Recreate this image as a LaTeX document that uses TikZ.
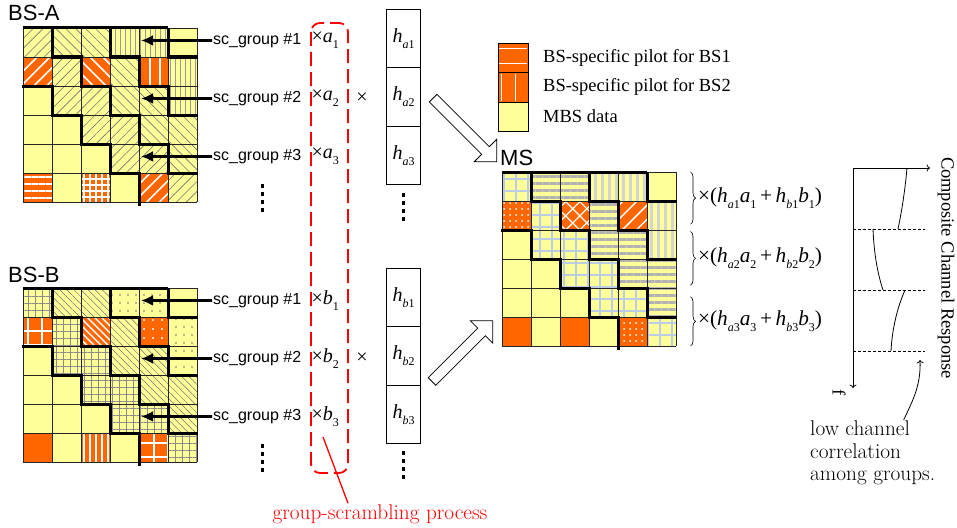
\documentclass[tikz,border=0pt]{standalone}
\usepackage{fontspec}
\newfontfamily\tms{Liberation Serif}
\newfontfamily\arl{Liberation Sans}
\usetikzlibrary{positioning,arrows.meta,patterns.meta,shapes.arrows,decorations.pathreplacing}
\definecolor{mbsyellow}{RGB}{255,255,153}
\definecolor{pilotorange}{RGB}{255,102,0}
\definecolor{gridblue}{RGB}{188,204,228}
\newcommand\sub[1]{\raisebox{-0.3em}{\fontsize{12}{12}\selectfont #1}}
\newcommand\hh[2]{\textit{h}\sub{\textit{#1}#2}}
\newcommand\vv[2]{\textit{#1}\sub{#2}}
\newcommand\pcell[3]{\path[pilot,#3] (#1-1,#2-1) rectangle (#1,#2);}
\newcommand\rgrid{%
  \fill[mbsyellow] (0,0) rectangle (6,6);
  \foreach \rw in {1,...,6}
    \foreach \cl in {1,...,6} {
      \pgfmathtruncatemacro\bn{and(\cl-\rw>=-1,\cl-\rw<=4) ? floor((\cl-\rw+1)/2) : 9}
      \path[band\bn] (\cl-1,\rw-1) rectangle (\cl,\rw);
    }}
\newcommand\rlines{%
  \foreach \i in {0,...,6} {
    \draw[cellline] (\i,0) -- (\i,6);
    \draw[cellline] (0,\i) -- (6,\i);
  }
  \draw[stair] (0,0) -- (5,0);
  \draw[stair] (-0.05,2) -- (1,2) -- (1,3) -- (2,3) -- (2,4) -- (3,4) -- (3,5) -- (4,5) -- (4,6.15);
  \draw[stair] (1,0) -- (1,1) -- (2,1) -- (2,2) -- (3,2) -- (3,3) -- (4,3) -- (4,4) -- (5,4) -- (5,5) -- (6.05,5);
  \draw[stair] (3,0) -- (3,1) -- (4,1) -- (4,2) -- (5,2) -- (5,3) -- (6.05,3);
  \draw[stair] (5,0) -- (5,1) -- (6.05,1);}
\begin{document}
\begin{tikzpicture}[x=1pt,y=-1pt,
  cellline/.style={line width=.6pt,black!85},
  stair/.style={line width=3pt},
  band9/.style={},
  pilot/.style={fill=pilotorange},
  wpat/.style={postaction={pattern={#1},pattern color=white}},
  title/.style={font=\arl\fontsize{22}{24}\selectfont,inner sep=0pt,anchor=base west},
  grp/.style={font=\arl\fontsize{16}{18}\selectfont,inner sep=1pt},
  grparrow/.style={line width=2.6pt,-{Latex[length=12pt,width=11pt]}},
  mul/.style={font=\tms\fontsize{20}{22}\selectfont,inner sep=1pt},
  formula/.style={font=\tms\fontsize{21.3}{23}\selectfont,inner sep=1pt,anchor=west},
  hbox/.style={draw,line width=.8pt,minimum width=34pt,minimum height=58.5pt,inner sep=0pt,outer sep=0pt,font=\tms\fontsize{20}{22}\selectfont},
  vdots/.style={line width=3pt,dash pattern=on 4pt off 4pt},
  scramble/.style={red,line width=1.8pt,dash pattern=on 14pt off 6pt,rounded corners=9pt},
  bigarrow/.style={single arrow,draw,fill=white,line width=.8pt,inner sep=5pt,single arrow head extend=10.5pt,minimum width=31pt},
  legbox/.style={draw,line width=.8pt,minimum width=30pt,minimum height=29.3pt,inner sep=0pt,outer sep=0pt},
  legline/.style={white,line width=1pt},
  legtxt/.style={font=\tms\fontsize{18.5}{20}\selectfont,inner sep=0pt},
  brace/.style={decorate,decoration={brace,amplitude=5pt},line width=.6pt},
  chart/.style={line width=.8pt},
  note/.style={font=\fontsize{21.3}{22.5}\selectfont,inner sep=1pt}]
\useasboundingbox (0,0) rectangle (957,527);

\begin{scope}[shift={(23,28)},x=29pt,y=-29pt,
  band0/.style={pattern={Lines[angle=45,distance=7pt,line width=.6pt]},pattern color=black!55},
  band1/.style={pattern={Lines[angle=-45,distance=7pt,line width=.6pt]},pattern color=black!55},
  band2/.style={pattern={Lines[angle=90,distance=5pt,line width=.5pt]},pattern color=black!40}]
\rgrid
\pcell{1}{2}{wpat={Lines[angle=45,distance=9pt,line width=1.6pt]}}
\pcell{3}{2}{wpat={Lines[angle=-45,distance=9pt,line width=1.6pt]}}
\pcell{5}{2}{wpat={Lines[angle=90,distance=10pt,line width=1.4pt]}}
\pcell{1}{6}{wpat={Lines[angle=0,distance=7pt,line width=1.4pt]}}
\pcell{3}{6}{wpat={Hatch[angle=0,distance=6pt,line width=1.2pt]}}
\pcell{5}{6}{wpat={Lines[angle=45,distance=9pt,line width=1.6pt]}}
\rlines
\coordinate (A1) at (4.07,0.43);
\coordinate (A2) at (4.07,2.43);
\coordinate (A3) at (4.07,4.43);
\end{scope}

\begin{scope}[shift={(23,288)},x=29pt,y=-29pt,
  band0/.style={pattern={Hatch[angle=0,distance=7pt,line width=.5pt]},pattern color=black!45},
  band1/.style={pattern={Lines[angle=-45,distance=5pt,line width=.5pt]},pattern color=black!55},
  band2/.style={pattern={Dots[distance=8pt,radius=.8pt]},pattern color=black!55}]
\rgrid
\pcell{1}{2}{wpat={Hatch[angle=0,distance=14pt,line width=1.2pt]}}
\pcell{3}{2}{wpat={Lines[angle=-45,distance=5pt,line width=1.4pt]}}
\pcell{5}{2}{wpat={Dots[distance=9pt,radius=1.1pt]}}
\pcell{1}{6}{}
\pcell{3}{6}{wpat={Lines[angle=90,distance=6pt,line width=1.6pt]}}
\pcell{5}{6}{wpat={Hatch[angle=0,distance=14pt,line width=1.2pt]}}
\rlines
\coordinate (B1) at (4.07,0.43);
\coordinate (B2) at (4.07,2.43);
\coordinate (B3) at (4.07,4.43);
\end{scope}

\begin{scope}[shift={(502,172)},x=29pt,y=-29pt,
  band0/.style={pattern={Hatch[angle=0,distance=12pt,line width=1.6pt]},pattern color=gridblue},
  band1/.style={pattern={Lines[angle=0,distance=7pt,line width=3pt]},pattern color=black!30},
  band2/.style={pattern={Lines[angle=90,distance=7pt,line width=3pt]},pattern color=black!17}]
\rgrid
\pcell{1}{2}{wpat={Dots[distance=6pt,radius=1pt]}}
\pcell{3}{2}{wpat={Hatch[angle=45,distance=10pt,line width=1.2pt]}}
\pcell{5}{2}{wpat={Lines[angle=45,distance=10pt,line width=1.5pt]}}
\pcell{1}{6}{}
\pcell{3}{6}{}
\pcell{5}{6}{wpat={Dots[distance=6pt,radius=1pt]}}
\rlines
\draw[brace] (6.5,0) -- (6.5,1.8);
\draw[brace] (6.5,2.05) -- (6.5,3.9);
\draw[brace] (6.5,4.3) -- (6.5,6);
\node[formula] (fm1) at (6.72,0.9) {×(\hh{a}{1}\vv{a}{1}\,+\,\hh{b}{1}\vv{b}{1})};
\node[formula] (fm2) at (6.72,2.98) {×(\hh{a}{2}\vv{a}{2}\,+\,\hh{b}{2}\vv{b}{2})};
\node[formula] (fm3) at (6.72,5.15) {×(\hh{a}{3}\vv{a}{3}\,+\,\hh{b}{3}\vv{b}{3})};
\end{scope}

\node[title] (bsA) at (8,21) {BS-A};
\node[title] (bsB) at (8,282) {BS-B};
\node[title] (ms) at (500,165) {MS};

\node[grp,anchor=west] (gA1) at (212,40.5) {sc\_group \#1};
\node[grp,anchor=west] (gA2) at (212,98.5) {sc\_group \#2};
\node[grp,anchor=west] (gA3) at (212,156.5) {sc\_group \#3};
\node[grp,anchor=west] (gB1) at (212,300.5) {sc\_group \#1};
\node[grp,anchor=west] (gB2) at (212,358.5) {sc\_group \#2};
\node[grp,anchor=west] (gB3) at (212,416.5) {sc\_group \#3};
\draw[grparrow] (gA1) -- (A1);
\draw[grparrow] (gA2) -- (A2);
\draw[grparrow] (gA3) -- (A3);
\draw[grparrow] (gB1) -- (B1);
\draw[grparrow] (gB2) -- (B2);
\draw[grparrow] (gB3) -- (B3);

\node[mul,right=8pt of gA1] (mA1) {×\vv{a}{1}};
\node[mul,right=8pt of gA2] (mA2) {×\vv{a}{2}};
\node[mul,right=8pt of gA3] (mA3) {×\vv{a}{3}};
\node[mul,right=8pt of gB1] (mB1) {×\vv{b}{1}};
\node[mul,right=8pt of gB2] (mB2) {×\vv{b}{2}};
\node[mul,right=8pt of gB3] (mB3) {×\vv{b}{3}};
\node[mul] (xA) at (362,98.5) {×};
\node[mul] (xB) at (362,358.5) {×};

\node[hbox] (hA1) at (403.5,38.3) {\hh{a}{1}};
\node[hbox,below=0pt of hA1] (hA2) {\hh{a}{2}};
\node[hbox,below=0pt of hA2] (hA3) {\hh{a}{3}};
\node[hbox] (hB1) at (403.5,297.5) {\hh{b}{1}};
\node[hbox,below=0pt of hB1] (hB2) {\hh{b}{2}};
\node[hbox,below=0pt of hB2] (hB3) {\hh{b}{3}};

\draw[vdots] (262,184) -- (262,214);
\draw[vdots] (262,444) -- (262,474);
\draw[vdots] (403.5,193) -- (403.5,223);
\draw[vdots] (403.5,451) -- (403.5,481);

\draw[scramble] (311,23) rectangle (348,473);
\coordinate (scrtip) at (323,437);
\node[note,text=red] (scrlbl) at (380,514) {group-scrambling process};
\draw[red,line width=1.3pt] (scrtip) -- ([xshift=-32pt]scrlbl.north);

\node[bigarrow,minimum height=90pt,rotate=-45] (toMSa) at (463,128) {};
\node[bigarrow,minimum height=86pt,rotate=45] (toMSb) at (460.5,353) {};

\node[legbox,fill=pilotorange] (lg1) at (513,58) {};
\node[legbox,fill=pilotorange,below=0pt of lg1] (lg2) {};
\node[legbox,fill=mbsyellow,below=0pt of lg2] (lg3) {};
\draw[legline] ([shift={(1,5)}]lg1.north west) -- ([shift={(-1,5)}]lg1.north east);
\draw[legline] ([shift={(1,20)}]lg1.north west) -- ([shift={(-1,20)}]lg1.north east);
\draw[legline] ([shift={(3.5,1)}]lg2.north west) -- ([shift={(3.5,-1)}]lg2.south west);
\draw[legline] ([shift={(17,1)}]lg2.north west) -- ([shift={(17,-1)}]lg2.south west);
\node[legtxt,right=15pt of lg1] (lt1) {BS-specific pilot for BS1};
\node[legtxt,right=15pt of lg2] (lt2) {BS-specific pilot for BS2};
\node[legtxt,right=15pt of lg3] (lt3) {MBS data};

\coordinate (co) at (853,168);
\draw[chart,->] (co) -- (930,168);
\draw[chart,->] (co) -- (853,388);
\foreach \y in {229,290,351} \draw[chart,densely dashed] (853,\y) -- (925,\y);
\draw[chart] (907,168) .. controls (905,190) and (902,210) .. (898,229);
\draw[chart] (873,229) .. controls (874,255) and (878,275) .. (883,290);
\draw[chart] (905,290) .. controls (897,308) and (892,330) .. (891,351);
\node[legtxt,rotate=-90] (ccr) at (946,268) {Composite Channel Response};
\node[legtxt,rotate=-90] (fax) at (839,393) {f};
\node[note,anchor=north west,align=left] (low) at (809,420) {low channel\\correlation\\among groups.};
\coordinate (lowend) at (920,360);
\draw[chart,->] ([xshift=31pt]low.north) .. controls (913,400) and (921,385) .. (lowend);
\end{tikzpicture}
\end{document}
